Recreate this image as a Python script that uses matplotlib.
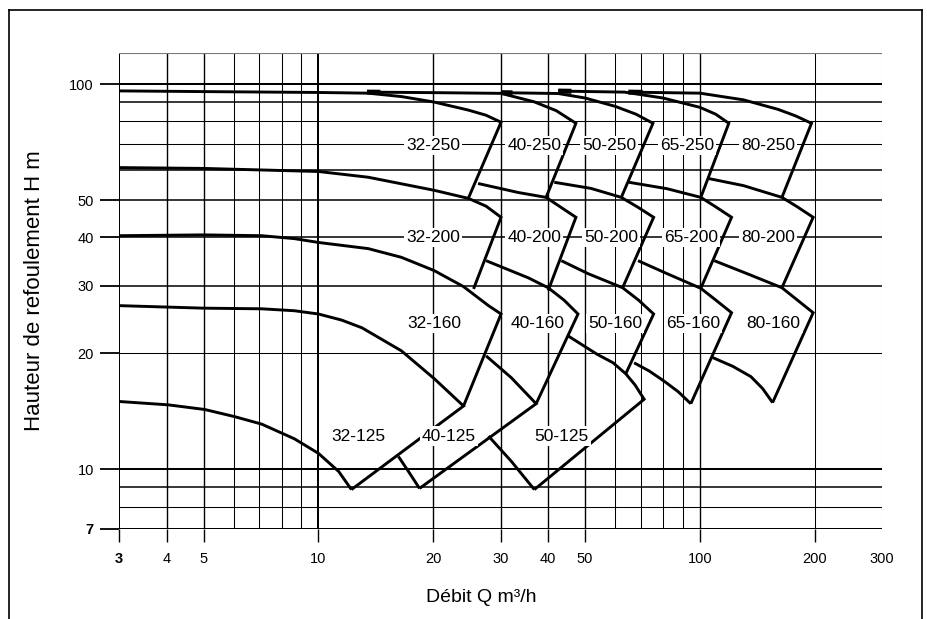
import numpy as np
import matplotlib.pyplot as plt
from matplotlib.lines import Line2D

plt.rcParams['font.family'] = ['Liberation Sans', 'DejaVu Sans']

# grid / axis values
x_grid = [3, 4, 5, 6, 7, 8, 9, 10, 20, 30, 40, 50, 60, 70, 80, 90, 100, 200, 300]
y_grid = [7, 8, 9, 10, 20, 30, 40, 50, 60, 70, 80, 90, 100]
x_ticks = [3, 4, 5, 10, 20, 30, 40, 50, 100, 200, 300]
y_ticks = [7, 10, 20, 30, 40, 50, 100]

# pump curves, Q in m3/h, H in m (top curve then right edge)
q_32_250 = [3, 5, 10, 13.5, 16.5, 20.1, 24.7, 27.5, 30.1, 24.7]
h_32_250 = [96.0, 95.6, 95.1, 94.7, 92.8, 89.8, 85.6, 83.0, 79.6, 50.5]
q_32_200 = [3, 5, 10, 13.5, 20.1, 24.7, 27.5, 30.1, 25.5]
h_32_200 = [60.7, 60.4, 59.3, 57.3, 53.0, 50.5, 48.2, 45.1, 29.4]
q_32_160 = [3, 5, 7.1, 8.65, 10, 13.5, 16.5, 20.1, 24.0, 27.9, 30.1, 24.0]
h_32_160 = [40.4, 40.6, 40.4, 39.7, 38.8, 37.4, 35.5, 32.8, 29.8, 26.6, 25.3, 14.6]
q_32_125 = [3, 5, 7.1, 8.65, 10, 11.5, 13.0, 16.5, 20.1, 24.0, 12.2]
h_32_125 = [26.6, 26.2, 26.1, 25.8, 25.3, 24.4, 23.3, 20.3, 17.2, 14.6, 8.86]
q_32_low = [3, 4.04, 5.03, 6.03, 7.1, 8.65, 10, 11.3, 12.2]
h_32_low = [15.0, 14.7, 14.3, 13.7, 13.1, 12.0, 11.0, 9.87, 8.86]

q_40_250 = [13.4, 20.1, 30.1, 36.8, 42.0, 47.3, 39.5]
h_40_250 = [95.3, 95.0, 94.6, 89.9, 85.3, 79.1, 50.8]
q_40_200 = [26.2, 33.4, 39.5, 43.3, 47.3, 40.0]
h_40_200 = [55.2, 52.3, 50.8, 47.8, 45.1, 29.1]
q_40_160 = [27.5, 35.5, 40.0, 44.0, 47.9, 37.2]
h_40_160 = [34.8, 31.4, 29.6, 27.5, 25.3, 14.8]
q_40_125 = [27.5, 32.0, 37.2, 18.4]
h_40_125 = [19.7, 17.3, 14.8, 8.92]
q_40_low = [16.2, 17.3, 18.4]
h_40_low = [10.8, 9.8, 8.92]

q_50_250 = [30.1, 42.5, 50.0, 60.0, 68.0, 75.3, 62.2]
h_50_250 = [95.0, 94.5, 92.0, 87.5, 83.5, 79.1, 50.8]
q_50_200 = [41.5, 51.8, 62.2, 68.5, 75.6, 62.7]
h_50_200 = [55.6, 53.6, 50.8, 48.0, 45.1, 29.6]
q_50_160 = [43.3, 50.9, 62.7, 69.0, 75.6, 63.9]
h_50_160 = [34.8, 32.2, 29.6, 27.5, 25.3, 17.7]
q_50_125 = [45.1, 53.7, 59.2, 63.9, 67.6, 71.4, 36.8]
h_50_125 = [22.2, 19.9, 18.9, 17.7, 16.55, 15.2, 8.86]
q_50_low = [27.9, 32.0, 36.8]
h_50_low = [12.2, 10.5, 8.86]

q_65_250 = [42.5, 63.4, 80.0, 100.0, 110.0, 119.0, 100.5]
h_65_250 = [95.9, 95.3, 92.0, 87.0, 83.5, 79.1, 50.8]
q_65_200 = [65.1, 82.0, 100.5, 110.0, 121.0, 100.5]
h_65_200 = [55.6, 53.5, 50.8, 48.0, 45.1, 29.5]
q_65_160 = [68.8, 82.0, 100.5, 110.0, 121.0, 94.6]
h_65_160 = [34.8, 32.2, 29.5, 27.5, 25.5, 14.8]
q_65_low = [67.2, 73.6, 80.8, 87.7, 94.6]
h_65_low = [18.9, 18.0, 16.9, 15.9, 14.8]

q_80_250 = [64.9, 100.0, 130.0, 160.0, 178.0, 196.0, 164.0]
h_80_250 = [95.3, 94.7, 91.0, 86.0, 82.7, 79.1, 50.8]
q_80_200 = [105.0, 130.0, 164.0, 180.0, 198.0, 164.0]
h_80_200 = [56.9, 54.5, 50.8, 48.0, 45.1, 29.6]
q_80_160 = [109.0, 135.0, 164.0, 180.0, 198.0, 155.0]
h_80_160 = [34.8, 32.0, 29.6, 27.5, 25.5, 14.9]
q_80_low = [108.0, 122.0, 136.0, 146.0, 155.0]
h_80_low = [19.5, 18.5, 17.4, 16.2, 14.9]

label_text = ['32-250', '40-250', '50-250', '65-250', '80-250',
              '32-200', '40-200', '50-200', '65-200', '80-200',
              '32-160', '40-160', '50-160', '65-160', '80-160',
              '32-125', '40-125', '50-125']
label_q = [20.0, 36.8, 57.8, 92.5, 151,
           20.0, 36.8, 58.5, 94.6, 151,
           20.1, 37.5, 60.0, 96.0, 156,
           12.7, 22.0, 43.3]
label_h = [69.3] * 5 + [40.0] * 5 + [23.9] * 5 + [12.2] * 3

curves = [(q_32_250, h_32_250), (q_32_200, h_32_200), (q_32_160, h_32_160),
          (q_32_125, h_32_125), (q_32_low, h_32_low),
          (q_40_250, h_40_250), (q_40_200, h_40_200), (q_40_160, h_40_160),
          (q_40_125, h_40_125), (q_40_low, h_40_low),
          (q_50_250, h_50_250), (q_50_200, h_50_200), (q_50_160, h_50_160),
          (q_50_125, h_50_125), (q_50_low, h_50_low),
          (q_65_250, h_65_250), (q_65_200, h_65_200), (q_65_160, h_65_160),
          (q_65_low, h_65_low),
          (q_80_250, h_80_250), (q_80_200, h_80_200), (q_80_160, h_80_160),
          (q_80_low, h_80_low)]
# top curves whose start is marked by a short heavy stroke
marked = [(q_40_250, h_40_250), (q_50_250, h_50_250),
          (q_65_250, h_65_250), (q_80_250, h_80_250)]

W, H = 928, 619
fig = plt.figure(figsize=(W / 100, H / 100), dpi=100)
ax = fig.add_axes([119 / W, (H - 529) / H, (882 - 119) / W, (529 - 53) / H])
ax.set_xscale('log')
ax.set_yscale('log')
ax.set_xlim(3, 300)
ax.set_ylim(7, 120.4)
for s in ax.spines.values():
    s.set_visible(False)

# grid lines
heavy_x = [3, 10]
mid_x = [4, 5, 20, 30, 40, 50, 100]
for v in x_grid:
    lw = 1.45 if v in heavy_x else (1.0 if v in mid_x else 0.75)
    c = '#777777' if v == 300 else 'black'
    ax.axvline(v, color=c, lw=lw, zorder=1)
heavy_y = [7, 10, 100]
mid_y = [9, 30, 40, 50, 60, 90]
for v in y_grid:
    lw = 1.45 if v in heavy_y else (1.1 if v in mid_y else 0.75)
    ax.axhline(v, color='black', lw=lw, zorder=1)
ax.axhline(120.4, color='#777777', lw=0.8, zorder=1)

# ticks
ax.xaxis.set_minor_locator(plt.NullLocator())
ax.yaxis.set_minor_locator(plt.NullLocator())
ax.set_xticks(x_ticks)
ax.set_xticklabels([str(v) for v in x_ticks])
ax.set_yticks(y_ticks)
ax.set_yticklabels([str(v) for v in y_ticks])
ax.tick_params(axis='x', length=9.5, width=1.0, pad=7, labelsize=10.5)
ax.tick_params(axis='y', length=14, width=1.3, pad=4, labelsize=10.5)
ax.xaxis.get_major_ticks()[-1].tick1line.set_visible(False)
ax.get_xticklabels()[0].set_fontweight('bold')
ax.get_yticklabels()[0].set_fontweight('bold')

# pump curves
for q, h in curves:
    ax.plot(q, h, color='black', lw=2.1, solid_joinstyle='miter',
            solid_capstyle='butt', zorder=3)

# heavy start strokes (first fifth of the first segment, in log space)
for q, h in marked:
    lq = np.log10(q[:2])
    lh = np.log10(h[:2])
    ax.plot(10 ** np.array([lq[0], lq[0] + 0.2 * (lq[1] - lq[0])]),
            10 ** np.array([lh[0], lh[0] + 0.2 * (lh[1] - lh[0])]),
            color='black', lw=3.6, solid_capstyle='butt', zorder=3)

for t, q, h in zip(label_text, label_q, label_h):
    ax.text(q, h, t, ha='center', va='center', fontsize=12.5, zorder=5,
            bbox=dict(boxstyle='square,pad=0.12', fc='white', ec='none'))

fig.text(481 / W, 1 - 598 / H, 'Débit Q m³/h', ha='center', va='center', fontsize=14)
fig.text(35 / W, 1 - 291 / H, 'Hauteur de refoulement H m', ha='center',
         va='center', rotation=90, fontsize=16)

# outer frame
fig.add_artist(Line2D([9 / W, 9 / W], [0, 1 - 10 / H], color='black', lw=1.2))
fig.add_artist(Line2D([9 / W, 922 / W], [1 - 10 / H, 1 - 10 / H], color='black', lw=1.2))
fig.add_artist(Line2D([922 / W, 922 / W], [0, 1 - 10 / H], color='black', lw=1.2))

fig.savefig('out.png', dpi=100)
